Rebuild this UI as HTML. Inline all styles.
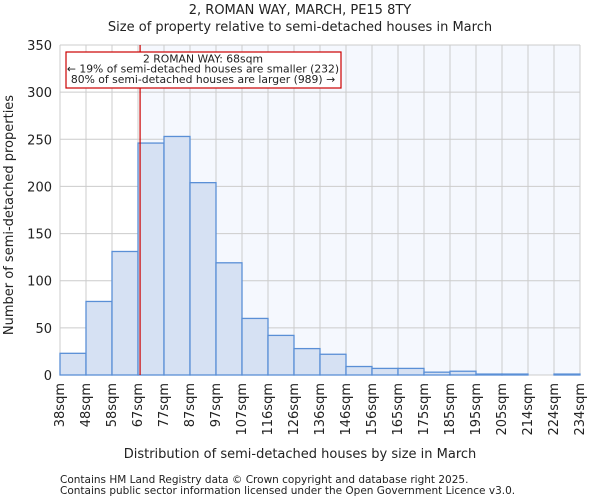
<!DOCTYPE html>
<html><head><meta charset="utf-8"><style>
body{margin:0;background:#fff;font-family:"DejaVu Sans","Liberation Sans",sans-serif;}
svg text{font-family:"DejaVu Sans","Liberation Sans",sans-serif;fill:#222;}
</style></head><body>
<svg id="chart" width="600" height="500" xmlns="http://www.w3.org/2000/svg">
<text x="300" y="14" font-size="13" text-anchor="middle">2, ROMAN WAY, MARCH, PE15 8TY</text>
<text x="300" y="31" font-size="13" text-anchor="middle">Size of property relative to semi-detached houses in March</text>
<g id="plot"></g>
<text x="300" y="458" font-size="13" text-anchor="middle">Distribution of semi-detached houses by size in March</text>
<text transform="translate(13,215) rotate(-90)" font-size="13" text-anchor="middle">Number of semi-detached properties</text>
<text x="60" y="483" font-size="10.5" fill="#444">Contains HM Land Registry data © Crown copyright and database right 2025.</text>
<text x="60" y="494" font-size="10.5" fill="#444">Contains public sector information licensed under the Open Government Licence v3.0.</text>
</svg>
<script>
const categories=["38sqm","48sqm","58sqm","67sqm","77sqm","87sqm","97sqm","107sqm","116sqm","126sqm","136sqm","146sqm","156sqm","165sqm","175sqm","185sqm","195sqm","205sqm","214sqm","224sqm","234sqm"];
const counts=[23,78,131,246,253,204,119,60,42,28,22,9,7,7,3,4,1,1,0,1];
const yTicks=[0,50,100,150,200,250,300,350];
const markerBin=3.08;
const NS="http://www.w3.org/2000/svg";
const L=60,R=580,T=45,B=375,yMax=350;
const n=counts.length,bw=(R-L)/n;
const xs=i=>L+i*bw;
const ys=v=>B-v/yMax*(B-T);
const g=document.getElementById('plot');
function mk(t,a){const e=document.createElementNS(NS,t);for(const k in a)e.setAttribute(k,a[k]);g.appendChild(e);return e;}
const mx=xs(markerBin);
let e=mk('rect',{x:mx,y:T,width:R-mx,height:B-T,fill:'#f5f8fe'});


for(let i=0;i<=n;i++){e=mk('line',{x1:xs(i),x2:xs(i),y1:T,y2:B,stroke:'#cccccc','stroke-width':1});

}
yTicks.forEach(v=>{e=mk('line',{x1:L,x2:R,y1:ys(v),y2:ys(v),stroke:'#cccccc','stroke-width':1});


const t=mk('text',{x:L-8,y:ys(v)+5,'font-size':13,'text-anchor':'end'});t.textContent=v;

});
counts.forEach((c,i)=>{if(c<=0)return;e=mk('rect',{x:xs(i),y:ys(c),width:bw,height:B-ys(c),fill:'#d6e1f3',stroke:'#5a8fd6','stroke-width':1.3});

});
categories.forEach((c,i)=>{const x=xs(i)+4;const t=mk('text',{transform:`translate(${x},${B+8}) rotate(-90)`,'font-size':13,'text-anchor':'end'});t.textContent=c;

});
e=mk('line',{x1:mx,x2:mx,y1:T,y2:B,stroke:'#cc0000','stroke-width':1.2});


e=mk('rect',{x:66,y:52,width:275,height:36,fill:'#fff',stroke:'#cc0000','stroke-width':1.2});


["2 ROMAN WAY: 68sqm","← 19% of semi-detached houses are smaller (232)","80% of semi-detached houses are larger (989) →"].forEach((s,k)=>{const t=mk('text',{x:203,y:62.5+k*10.2,'font-size':10.8,'text-anchor':'middle'});t.textContent=s;

});
</script>
</body></html>
